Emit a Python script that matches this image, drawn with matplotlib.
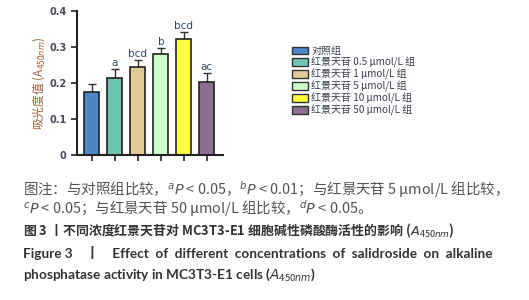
import matplotlib
matplotlib.use("Agg")
import matplotlib.pyplot as plt
from matplotlib.patches import Patch

plt.rcParams['font.family'] = ['Noto Sans CJK SC', 'DejaVu Sans']
plt.rcParams['mathtext.fontset'] = 'custom'
plt.rcParams['mathtext.rm'] = 'Noto Sans CJK SC'
plt.rcParams['mathtext.it'] = 'DejaVu Sans:italic'

groups = ["对照组", "红景天苷 0.5 μmol/L 组", "红景天苷 1 μmol/L 组",
          "红景天苷 5 μmol/L 组", "红景天苷 10 μmol/L 组", "红景天苷 50 μmol/L 组"]
means = [0.175, 0.214, 0.245, 0.280, 0.321, 0.203]
errs = [0.022, 0.024, 0.018, 0.018, 0.021, 0.024]
marks = ["", "a", "bcd", "b", "bcd", "ac"]
colors = ["#4a86c8", "#6fc5b0", "#e2c99a", "#ccffcc", "#ffff40", "#8c7090"]

fig = plt.figure(figsize=(5.29, 3.0), dpi=100)
ax = fig.add_axes([77 / 529, 145 / 300, 146 / 529, 144 / 300])

x = list(range(len(means)))
ax.bar(x, means, width=0.65, color=colors, edgecolor="#222222", linewidth=1.2, zorder=2)
ax.errorbar(x, means, yerr=[[0] * len(errs), errs], fmt="none", ecolor="#333333",
            elinewidth=1, capsize=3, capthick=1, zorder=1)
for xi, m, e, t in zip(x, means, errs, marks):
    ax.text(xi, m + e + 0.003, t, ha="center", va="bottom", fontsize=7.5,
            color="#34486e", family="DejaVu Sans")

ax.set_xlim(-0.65, 5.7)
ax.set_ylim(0, 0.4)
ax.set_yticks([0, 0.1, 0.2, 0.3, 0.4])
ax.set_yticklabels(["0", "0.1", "0.2", "0.3", "0.4"])
ax.set_xticks(x)
ax.set_xticklabels([])
for lab in ax.get_yticklabels():
    lab.set_family("DejaVu Sans")
    lab.set_fontweight("bold")
ax.tick_params(axis="y", labelsize=7, colors="#333333", width=1.3, length=4, labelcolor="#4a4a5a")
ax.tick_params(axis="x", width=1.3, length=4, colors="#333333")
for s in ["top", "right"]:
    ax.spines[s].set_visible(False)
for s in ["left", "bottom"]:
    ax.spines[s].set_linewidth(1.5)
    ax.spines[s].set_color("#222222")
ax.set_ylabel("吸光度值 (A$_{450nm}$)", fontsize=8.5, color="#a0603a", labelpad=2)

handles = [Patch(facecolor=c, edgecolor="#333333", linewidth=1) for c in colors]
fig.legend(handles, groups, loc="upper left", bbox_to_anchor=(283 / 529, 1 - 37 / 300),
           frameon=False, fontsize=7.2, handlelength=1.6, handleheight=0.8,
           handletextpad=0.3, labelspacing=0.08, labelcolor="#3a4050")

gray = "#555555"
fig.text(23 / 529, 1 - 190 / 300,
         "图注：与对照组比较，$^{a}P$ < 0.05，$^{b}P$ < 0.01；与红景天苷 5 μmol/L 组比较，",
         fontsize=10.4, color=gray, va="center")
fig.text(23 / 529, 1 - 209 / 300,
         "$^{c}P$ < 0.05；与红景天苷 50 μmol/L 组比较，$^{d}P$ < 0.05。",
         fontsize=10.4, color=gray, va="center")
fig.text(23 / 529, 1 - 231 / 300,
         "图 3 丨不同浓度红景天苷对 MC3T3-E1 细胞碱性磷酸酶活性的影响 ($A_{450nm}$)",
         fontsize=9.3, color="#333333", fontweight="bold", va="center")
fig.text(23 / 529, 1 - 253 / 300,
         "Figure 3    丨    Effect  of  different  concentrations  of  salidroside  on  alkaline",
         fontsize=9.8, color="#333333", fontweight="bold", va="center", family=["Lato", "Noto Sans CJK SC"])
fig.text(23 / 529, 1 - 275 / 300,
         "phosphatase activity in MC3T3-E1 cells ($A_{450 nm}$)",
         fontsize=9.8, color="#333333", fontweight="bold", va="center", family=["Lato", "DejaVu Sans"])

fig.savefig("out.png", dpi=100)
